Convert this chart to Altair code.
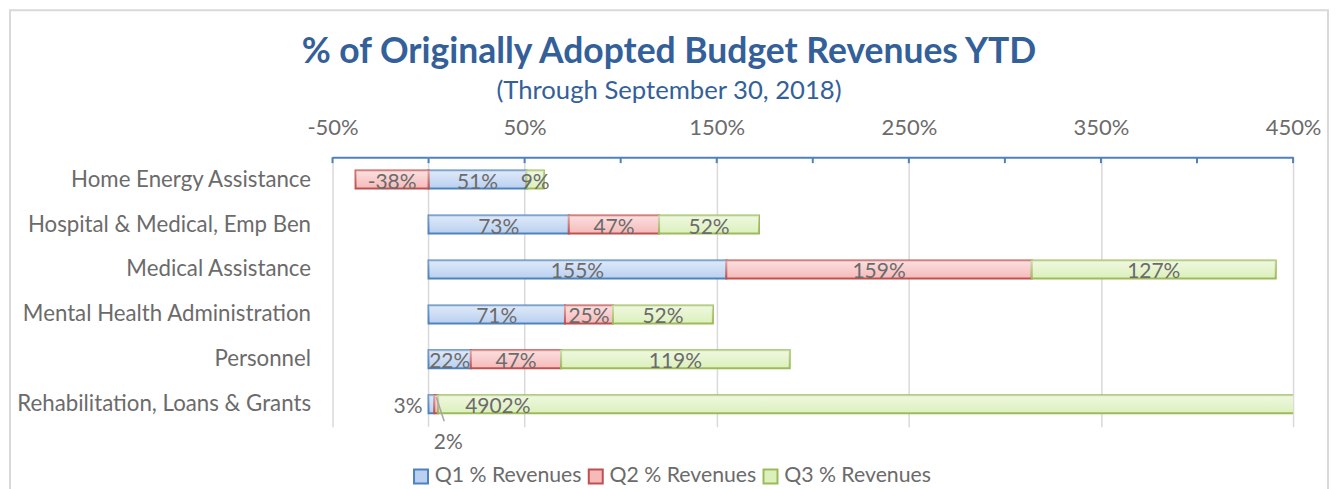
import altair as alt
import pandas as pd

categories = [
    "Home Energy Assistance",
    "Hospital & Medical, Emp Ben",
    "Medical Assistance",
    "Mental Health Administration",
    "Personnel",
    "Rehabilitation, Loans & Grants",
]
series = ["Q1 % Revenues", "Q2 % Revenues", "Q3 % Revenues"]
q1 = [51, 73, 155, 71, 22, 3]
q2 = [-38, 47, 159, 25, 47, 2]
q3 = [9, 52, 127, 52, 119, 4902]
label_ticks = [-50, 50, 150, 250, 350, 450]
all_ticks = [-50, 0, 50, 100, 150, 200, 250, 300, 350, 400, 450]

fills = ["#B9D0F1", "#F6BABA", "#DCF0BC"]
strokes = ["#4F81BD", "#C0504D", "#9BBB59"]
FONT = "Lato"
GRAY = "#6B6B6B"
BLUE_T = "#34609A"
SPECIAL = "Rehabilitation, Loans & Grants"

rows = []
for i, c in enumerate(categories):
    for j, (s, vals) in enumerate(zip(series, [q1, q2, q3])):
        rows.append({"category": c, "series": s, "order": j,
                     "value": vals[i], "label": f"{vals[i]}%"})
df = pd.DataFrame(rows)
ticks_df = pd.DataFrame({"t": all_ticks})
zero_df = pd.DataFrame({"t": [0]})

xscale = alt.Scale(domain=[-50, 450], nice=False, zero=False)
yenc = alt.Y("category:N", sort=categories,
             scale=alt.Scale(paddingInner=0.6, paddingOuter=0.3),
             axis=alt.Axis(title=None, domain=False, ticks=False, labelPadding=22,
                           labelFontSize=22.3, labelColor=GRAY, labelFont=FONT,
                           labelLimit=400))

base = alt.Chart(df).transform_stack(
    stack="value", as_=["x0", "x1"], groupby=["category"],
    sort=[alt.SortField("order")], offset="zero"
).transform_calculate(mid="(datum.x0 + datum.x1) / 2")

frame = alt.Chart(zero_df).mark_rect(fill=None, stroke="#D9D9D9", strokeWidth=2, clip=False).encode(
    x=alt.value(-323), x2=alt.value(997), y=alt.value(-147), y2=alt.value(360)
)

zero_line = alt.Chart(zero_df).mark_rule(color="#D9D9D9", strokeWidth=1.5).encode(
    x=alt.X("t:Q", scale=xscale),
)

leg = alt.Legend(title=None, orient="none", direction="horizontal",
                 legendX=78, legendY=309, symbolType="square",
                 symbolSize=196, symbolStrokeWidth=2,
                 labelFontSize=21.3, labelColor=GRAY, labelFont=FONT,
                 labelOffset=3, columnPadding=2)

xaxis = alt.Axis(orient="top", title=None, values=label_ticks,
                 labelExpr="datum.value + '%'", ticks=False, labelFlush=False,
                 domainColor="#4F81BD", domainWidth=2,
                 gridColor="#D9D9D9", gridWidth=1.5,
                 labelFontSize=22, labelColor=GRAY, labelFont=FONT,
                 labelPadding=18)

bars = base.mark_bar(clip=True, strokeWidth=2).encode(
    x=alt.X("x0:Q", scale=xscale, axis=xaxis),
    x2="x1:Q",
    y=yenc,
    fill=alt.Fill("series:N", scale=alt.Scale(domain=series, range=fills), legend=leg),
    stroke=alt.Stroke("series:N", scale=alt.Scale(domain=series, range=strokes), legend=leg),
    order=alt.Order("order:Q"),
)

shine = base.mark_bar(
    clip=True, strokeWidth=0,
    fill=alt.Gradient(
        gradient="linear", x1=0, y1=0, x2=0, y2=1,
        stops=[alt.GradientStop(color="rgba(255,255,255,0.55)", offset=0),
               alt.GradientStop(color="rgba(255,255,255,0.0)", offset=1)],
    ),
).encode(
    x=alt.X("x0:Q", scale=xscale),
    x2="x1:Q",
    y=yenc,
)

tick_marks = alt.Chart(ticks_df).mark_rule(color="#4F81BD", strokeWidth=2).encode(
    x=alt.X("t:Q", scale=xscale),
    y=alt.value(0),
    y2=alt.value(6),
)

labels = base.transform_filter(alt.datum.category != SPECIAL).mark_text(
    font=FONT, fontSize=21, color=GRAY, baseline="middle", align="center", dy=3
).encode(x=alt.X("mid:Q", scale=xscale), y=yenc, text="label:N")

lab_q1 = base.transform_filter(
    (alt.datum.category == SPECIAL) & (alt.datum.order == 0)
).mark_text(font=FONT, fontSize=21, color=GRAY, baseline="middle", align="right", dx=-6, dy=3
).encode(x=alt.X("x0:Q", scale=xscale), y=yenc, text="label:N")

lab_q2 = base.transform_filter(
    (alt.datum.category == SPECIAL) & (alt.datum.order == 1)
).mark_text(font=FONT, fontSize=21, color=GRAY, baseline="middle", align="center", dx=12, dy=39
).encode(x=alt.X("mid:Q", scale=xscale), y=yenc, text="label:N")

leader = base.transform_filter(
    (alt.datum.category == SPECIAL) & (alt.datum.order == 1)
).mark_rule(color="#A6A6A6", strokeWidth=1.5, yOffset=-7, y2Offset=17, x2Offset=8).encode(
    x=alt.X("mid:Q", scale=xscale), x2="mid:Q", y=yenc, y2="category:N"
)

lab_q3 = base.transform_filter(
    (alt.datum.category == SPECIAL) & (alt.datum.order == 2)
).mark_text(font=FONT, fontSize=21, color=GRAY, baseline="middle", align="left", dx=27, dy=3
).encode(x=alt.X("x0:Q", scale=xscale), y=yenc, text="label:N")

chart = alt.layer(
    frame, zero_line, bars, shine, tick_marks, labels, lab_q1, leader, lab_q2, lab_q3
).properties(
    width=962, height=270,
    autosize=alt.AutoSizeParams(type="none"),
    padding={"left": 325, "top": 149, "right": 37, "bottom": 62},
    title=alt.TitleParams(
        text="% of Originally Adopted Budget Revenues YTD",
        subtitle="(Through September 30, 2018)",
        anchor="middle", dx=-144, dy=108, font=FONT, fontSize=35.5, fontWeight="bold",
        color=BLUE_T, subtitleFont=FONT, subtitleFontSize=25.7,
        subtitleColor=BLUE_T, offset=14, subtitlePadding=8,
    ),
).configure_view(stroke=None)

chart.save("out.html", embed_options={"renderer": "svg", "actions": False})
